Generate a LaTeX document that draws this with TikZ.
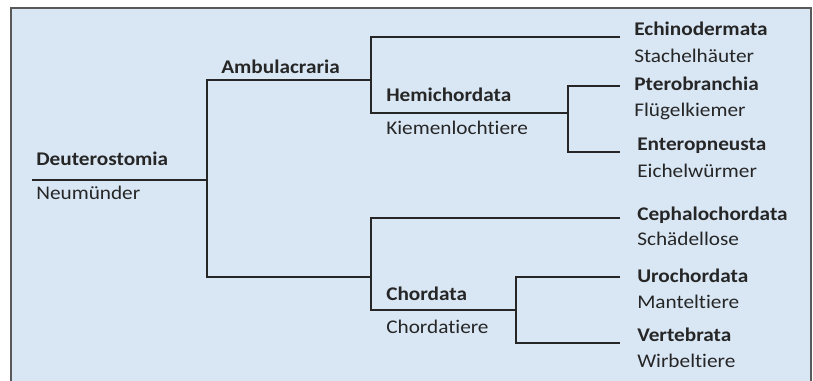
\documentclass[tikz,border=0pt]{standalone}
\usepackage{fontspec}
\setmainfont{Carlito}[FakeStretch=1.1, Ligatures=NoCommon]
\definecolor{panelblue}{HTML}{D9E7F5}
\definecolor{inkgray}{HTML}{262626}
\tikzset{
  taxon/.style={anchor=base west, inner sep=0pt, font=\fontsize{14.5}{17}\selectfont\bfseries, text=inkgray},
  vernacular/.style={anchor=base west, inner sep=0pt, font=\fontsize{14.5}{17}\selectfont, text=inkgray},
  branch/.style={line width=0.9pt, draw=inkgray},
}
\begin{document}
\begin{tikzpicture}[x=0.75pt, y=-0.75pt]
                \useasboundingbox (0,0) rectangle (813,381);
                \fill[panelblue] (11,8) rectangle (811,385);
                \draw[line width=1.5pt, black!65] (11,385) -- (11,8) -- (811,8) -- (811,385);

                \coordinate (deu) at (32,180);
                \coordinate (fDeu) at (207,180);
                \coordinate (fAmb) at (371,80);
                \coordinate (fHem) at (568,113);
                \coordinate (fCho) at (371,277);
                \coordinate (fChd) at (516,310);
                \coordinate (lEch) at (620,37);
                \coordinate (lPte) at (620,86);
                \coordinate (lEnt) at (620,152);
                \coordinate (lCep) at (620,218);
                \coordinate (lUro) at (620,277);
                \coordinate (lVer) at (620,343);

                \node[taxon] (deuN) at (36,166) {Deuterostomia};
                \node[vernacular] (deuV) at (36,199) {Neumünder};
                \node[taxon] (ambN) at (221,74) {Ambulacraria};
                \node[taxon] (echN) at (634,36) {Echinodermata};
                \node[vernacular] (echV) at (634,63) {Stachelhäuter};
                \node[taxon] (hemN) at (386,102) {Hemichordata};
                \node[vernacular] (hemV) at (386,135) {Kiemenlochtiere};
                \node[taxon] (pteN) at (634,91) {Pterobranchia};
                \node[vernacular] (pteV) at (634,117) {Flügelkiemer};
                \node[taxon] (entN) at (637,151) {Enteropneusta};
                \node[vernacular] (entV) at (637,177) {Eichelwürmer};
                \node[taxon] (cepN) at (637,220) {Cephalochordata};
                \node[vernacular] (cepV) at (637,245) {Schädellose};
                \node[taxon] (choN) at (386,300) {Chordata};
                \node[vernacular] (choV) at (386,333) {Chordatiere};
                \node[taxon] (uroN) at (637,282) {Urochordata};
                \node[vernacular] (uroV) at (637,308) {Manteltiere};
                \node[taxon] (verN) at (637,341) {Vertebrata};
                \node[vernacular] (verV) at (637,367) {Wirbeltiere};

                \draw[branch] (deu) -- (fDeu);
                \draw[branch] (fAmb) -| (fDeu) |- (fCho);
                \draw[branch] (lEch) -| (fAmb) |- (fHem);
                \draw[branch] (lPte) -| (fHem) |- (lEnt);
                \draw[branch] (lCep) -| (fCho) |- (fChd);
                \draw[branch] (lUro) -| (fChd) |- (lVer);
            \end{tikzpicture}
\end{document}
